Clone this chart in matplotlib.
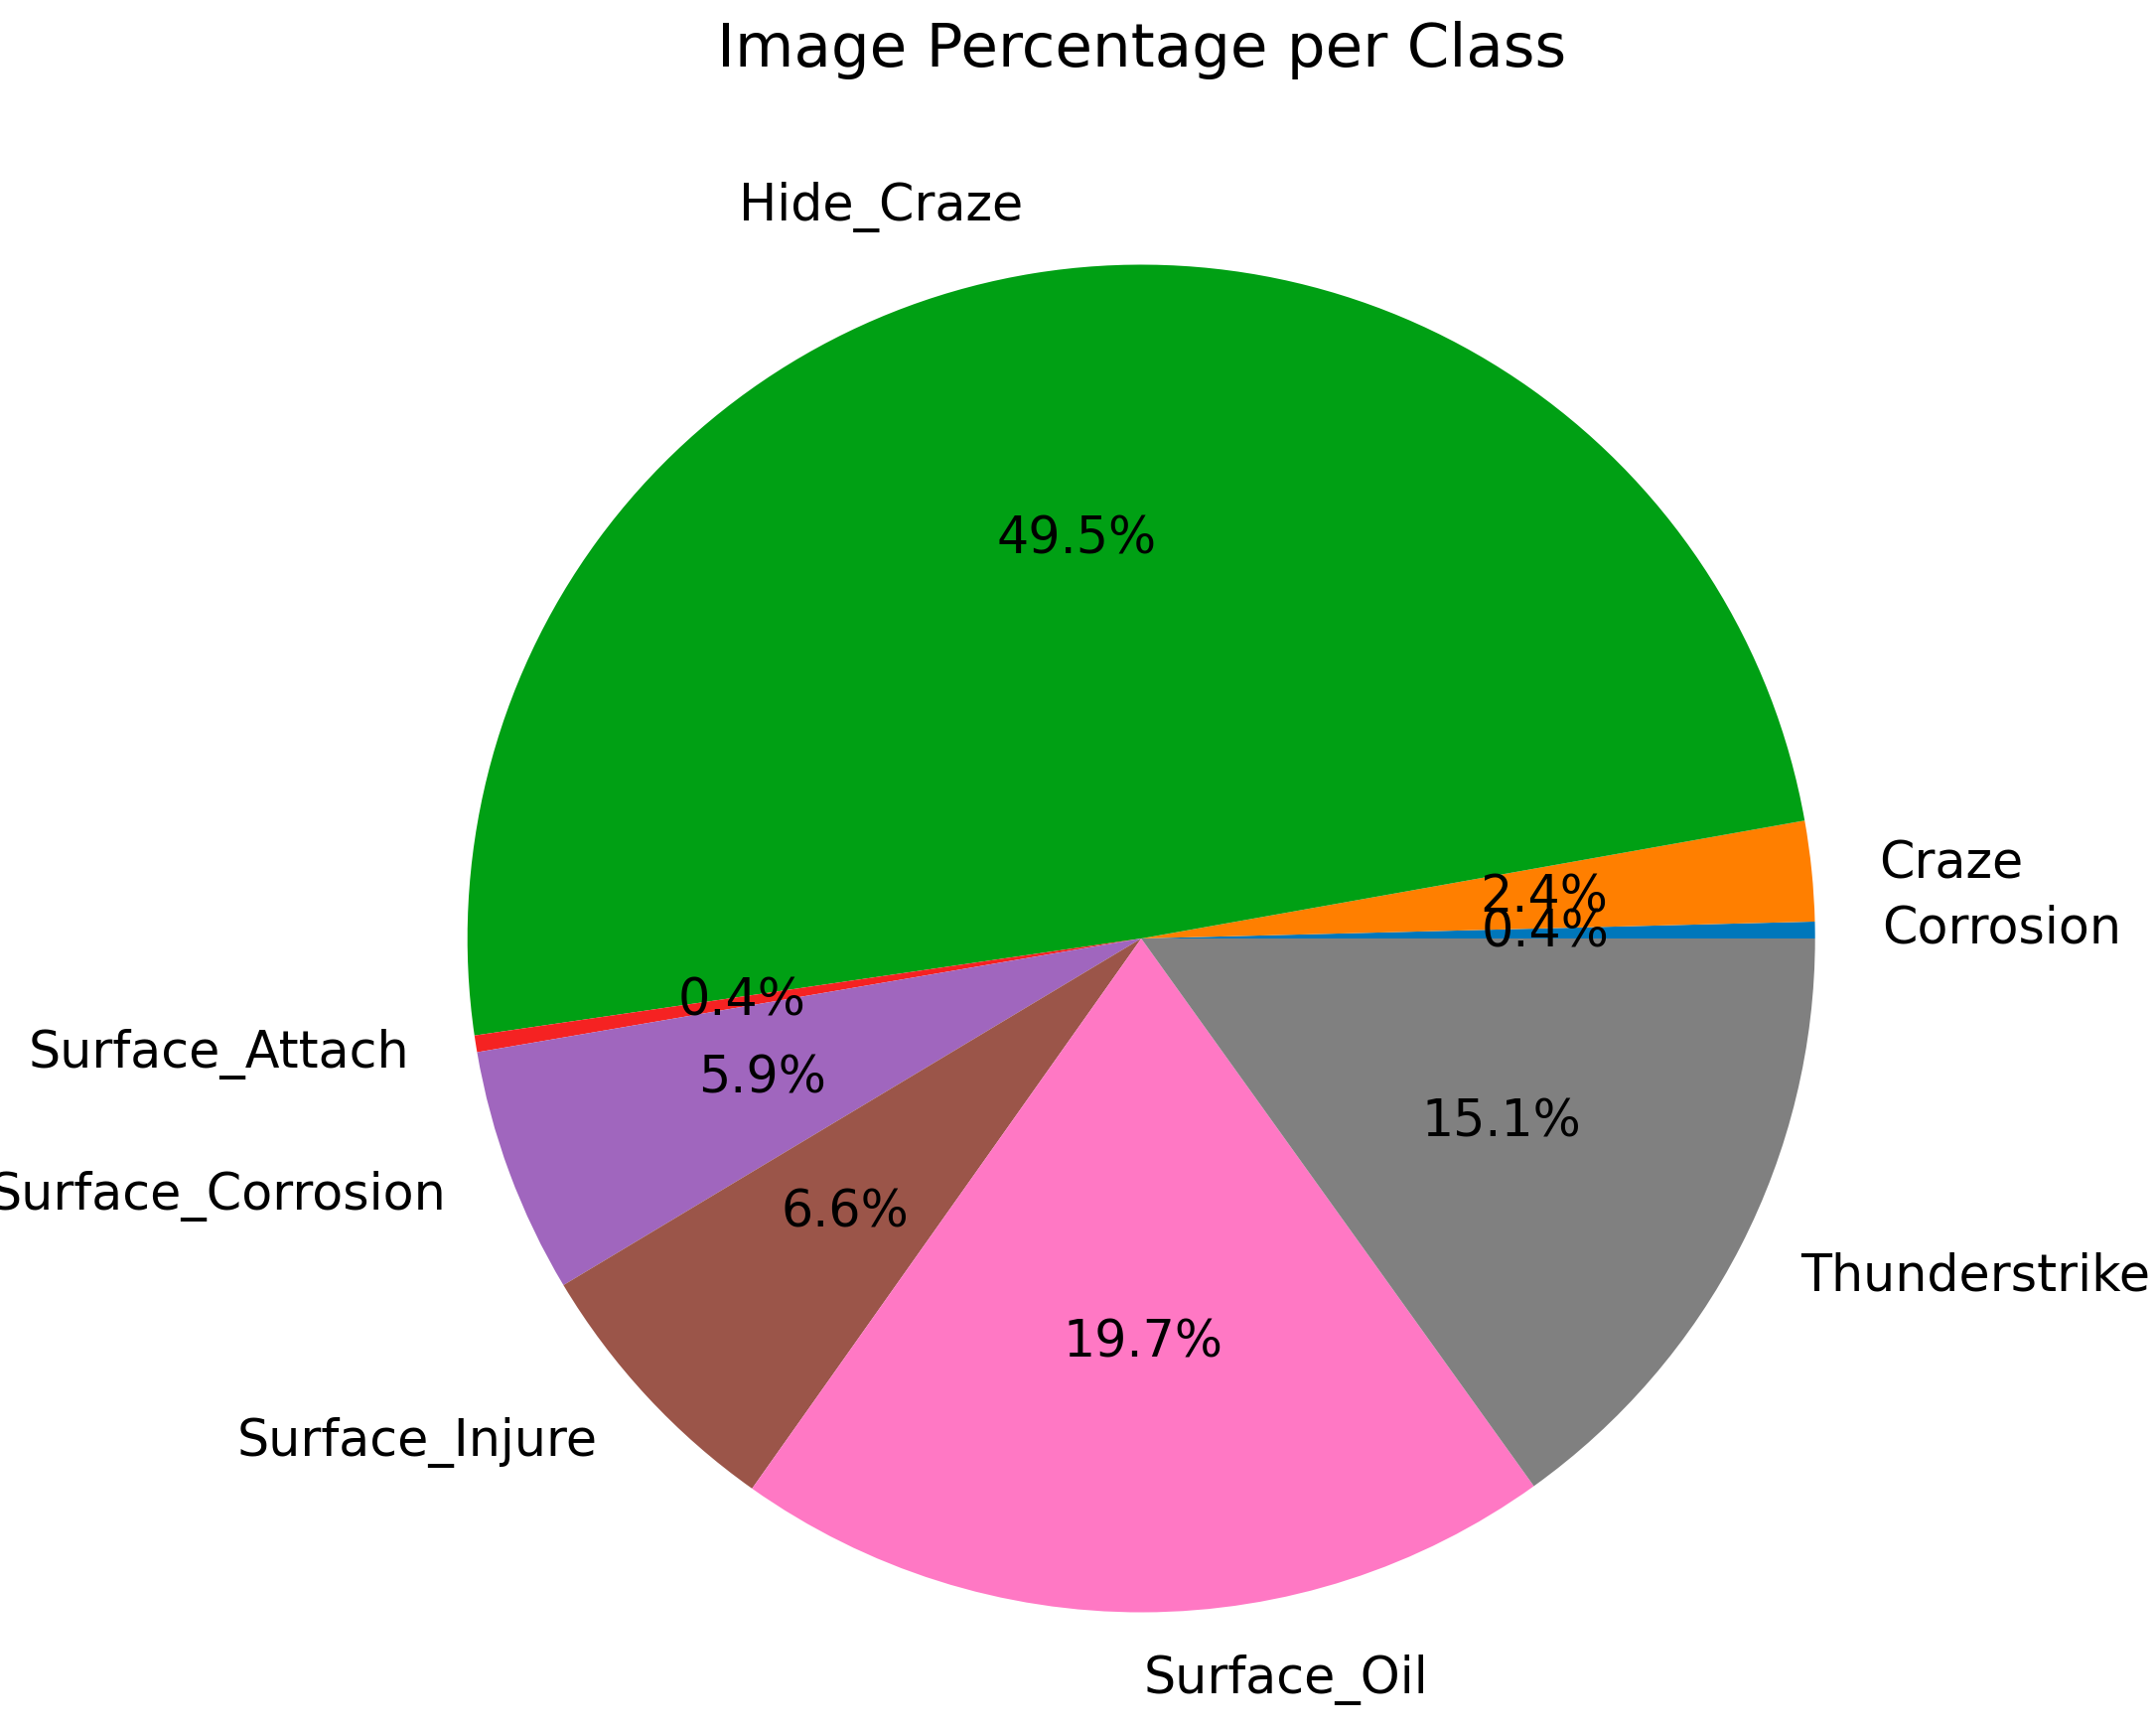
import matplotlib
matplotlib.use("Agg")
import matplotlib.pyplot as plt

labels = ["Corrosion", "Craze", "Hide_Craze", "Surface_Attach",
          "Surface_Corrosion", "Surface_Injure", "Surface_Oil", "Thunderstrike"]
percentages = [0.4, 2.4, 49.5, 0.4, 5.9, 6.6, 19.7, 15.1]
colors = ["#0077bb", "#ff7f00", "#00a014", "#f52222",
          "#a066be", "#9b5549", "#ff78c4", "#808080"]
title = "Image Percentage per Class"

W, H, DPI = 2171, 1741, 100
fig = plt.figure(figsize=(W / DPI, H / DPI), dpi=DPI)
ax = fig.add_axes([0, 0, 1, 1])

ax.pie(percentages, labels=labels, colors=colors, autopct="%1.1f%%",
       textprops={"fontsize": 36.5})
ax.set_aspect("auto")

cx, cy_top, r = 1149.2, 945.0, 678.5
cy = H - cy_top
ax.set_xlim(-cx / r, (W - cx) / r)
ax.set_ylim(-cy / r, (H - cy) / r)
ax.axis("off")

fig.text(cx / W, 1 - 50 / H, title, ha="center", va="center", fontsize=44)

fig.savefig("out.png", dpi=DPI, facecolor="white")
